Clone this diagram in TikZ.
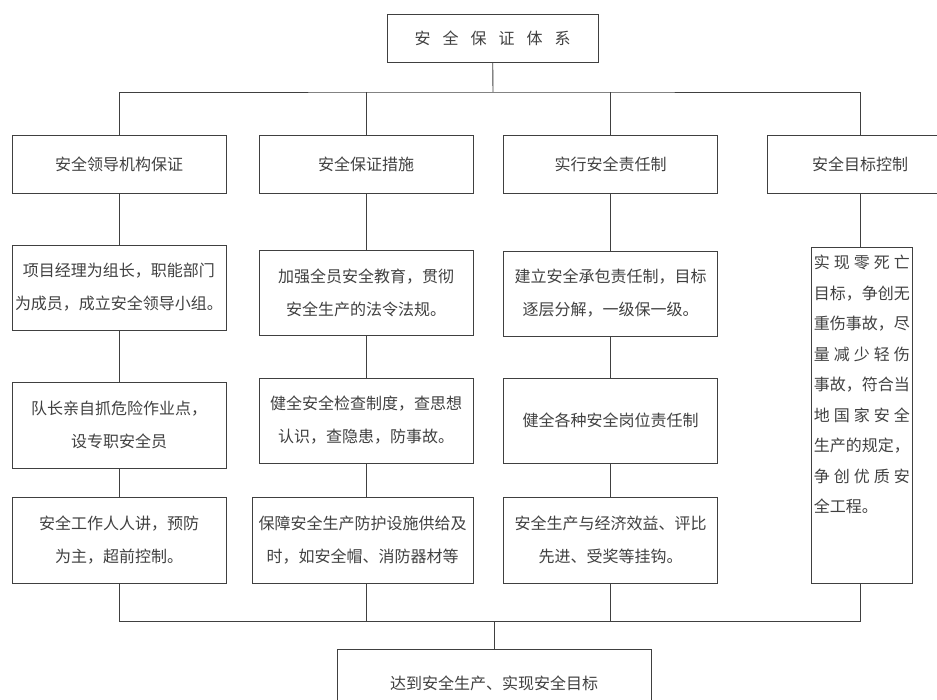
\documentclass[tikz,border=0pt]{standalone}
\usepackage{fontspec}
\setmainfont{Noto Sans CJK SC}
\XeTeXlinebreaklocale "zh"
\XeTeXlinebreakskip=0pt plus 6pt
\tikzstyle{box} = [rectangle, draw=black!75, line width=0.9pt, text=black!75, align=center, inner sep=2pt, font=\fontsize{16}{33}\selectfont]
\tikzstyle{wide} = [minimum width=214pt]
\tikzstyle{link} = [draw=black!75, line width=0.9pt]
\newcommand{\wgap}{\hspace{0.75em}}

\begin{document}
\begin{tikzpicture}[x=1pt, y=-1pt]
\useasboundingbox (0,0) rectangle (937,700);
\clip (0,0) rectangle (937,700);
\node[box, minimum width=211pt, minimum height=48pt] (root) at (492.5,38) {安\wgap 全\wgap 保\wgap 证\wgap 体\wgap 系};

\node[box, wide, minimum height=58pt] (l1a) at (119,164) {安全领导机构保证};
\node[box, wide, minimum height=58pt] (l1b) at (366,164) {安全保证措施};
\node[box, wide, minimum height=58pt] (l1c) at (610.5,164) {实行安全责任制};
\node[box, minimum width=186pt, minimum height=58pt] (l1d) at (860,164) {安全目标控制};

\node[box, wide, minimum height=85pt] (l2a) at (119,287.5) {项目经理为组长，职能部门\\为成员，成立安全领导小组。};
\node[box, wide, minimum height=85pt] (l2b) at (366,292.5) {加强全员安全教育，贯彻\\安全生产的法令法规。};
\node[box, wide, minimum height=85pt] (l2c) at (610.5,293.5) {建立安全承包责任制，目标\\逐层分解，一级保一级。};
\node[box, anchor=north west, inner sep=2.5pt] (l2d) at (811,247) {\parbox[c][331pt][t]{96pt}{\fontsize{16}{30.5}\selectfont\vspace{5pt}实现零死亡\linebreak 目标，争创无\linebreak 重伤事故，尽\linebreak 量减少轻伤\linebreak 事故，符合当\linebreak 地国家安全\linebreak 生产的规定，\linebreak 争创优质安\linebreak 全工程。}};

\node[box, wide, minimum height=86pt] (l3a) at (119,425) {队长亲自抓危险作业点，\\设专职安全员};
\node[box, wide, minimum height=85pt] (l3b) at (366,420.5) {健全安全检查制度，查思想\\认识，查隐患，防事故。};
\node[box, wide, minimum height=85pt] (l3c) at (610.5,420.5) {健全各种安全岗位责任制};

\node[box, wide, minimum height=86pt] (l4a) at (119,540) {安全工作人人讲，预防\\为主，超前控制。};
\node[box, minimum width=221pt, minimum height=86pt] (l4b) at (362.5,540) {保障安全生产防护设施供给及\\时，如安全帽、消防器材等};
\node[box, wide, minimum height=86pt] (l4c) at (610.5,540) {安全生产与经济效益、评比\\先进、受奖等挂钩。};

\node[box, minimum width=314pt, minimum height=68pt] (goal) at (494,683) {达到安全生产、实现安全目标};

\coordinate (topbus) at (493,92);
\coordinate (botbus) at (494,621);

\draw[link] (root) -- (topbus);
\draw[link] (l1a.north) |- (topbus) -| (l1d.north);
\draw[link] (l1b.north) -- (l1b.north |- topbus);
\draw[link] (l1c.north) -- (l1c.north |- topbus);
\foreach \c in {a,b,c} {
  \draw[link] (l1\c) -- (l2\c);
  \draw[link] (l2\c) -- (l3\c);
  \draw[link] (l3\c.south) -- (l3\c.south |- l4\c.north);
  \draw[link] (l3\c.south |- l4\c.south) -- (l3\c.south |- botbus);
}
\draw[link] (l1d.south) -- (l1d.south |- l2d.north);
\draw[link] (l1d.south |- l2d.south) |- (botbus);
\draw[link] (l3a.south |- l4a.south) |- (botbus);
\draw[link] (botbus) -- (goal);
\end{tikzpicture}
\end{document}
